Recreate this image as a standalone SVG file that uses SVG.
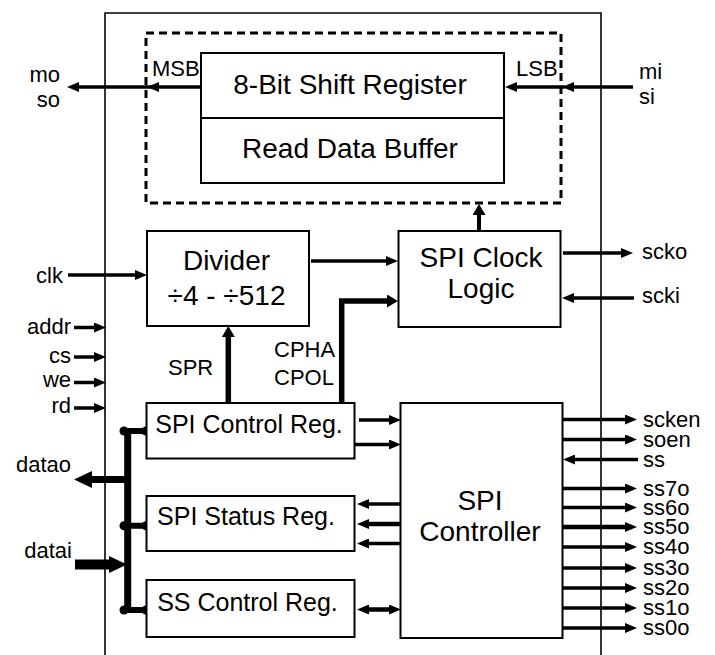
<svg xmlns="http://www.w3.org/2000/svg" width="715" height="655" viewBox="0 0 715 655">
<style>
.box{fill:#fff;stroke:#000;stroke-width:2}
.chip{fill:none;stroke:#000;stroke-width:1.6}
.dash{fill:none;stroke:#000;stroke-width:3;stroke-dasharray:8 5}
text{font-family:"Liberation Sans",Arial,sans-serif;fill:#000}
.big{font-size:28px;text-anchor:middle}
.reg{font-size:25px;text-anchor:middle}
.lbl{font-size:22px}
.end{text-anchor:end}
.w{fill:none;stroke:#000;stroke-width:3.5}
.t{stroke-width:5.5}
.a{marker-end:url(#ah)}
.m{marker-end:url(#ahM)}
.l{marker-end:url(#ahL)}
.d{marker-start:url(#ah2);marker-end:url(#ah2)}
.bus{fill:none;stroke:#000;stroke-width:7}
.stub{fill:none;stroke:#000;stroke-width:6}
</style>
<defs>
<marker id="ah" markerUnits="userSpaceOnUse" markerWidth="12" markerHeight="10" viewBox="0 0 12 10" refX="4" refY="5" orient="auto"><path d="M0,0L12,5L0,10z"/></marker>
<marker id="ah2" markerUnits="userSpaceOnUse" markerWidth="12" markerHeight="10" viewBox="0 0 12 10" refX="4" refY="5" orient="auto-start-reverse"><path d="M0,0L12,5L0,10z"/></marker>
<marker id="ahM" markerUnits="userSpaceOnUse" markerWidth="11" markerHeight="13" viewBox="0 0 11 13" refX="4" refY="6.5" orient="auto"><path d="M0,0L11,6.5L0,13z"/></marker>
<marker id="ahL" markerUnits="userSpaceOnUse" markerWidth="18" markerHeight="17" viewBox="0 0 18 17" refX="6" refY="8.5" orient="auto"><path d="M0,0L18,8.5L0,17z"/></marker>
</defs>

<g id="chip"><path class="chip" d="M105,655V13H601V655"/></g>
<g id="shift-block"><rect class="dash" x="146" y="33" width="415" height="170"/></g>

<g id="connectors">
<path class="w a" d="M201,87H155"/>
<path class="w a" d="M155,87H75"/>
<path class="w a" d="M633,87H570"/>
<path class="w a" d="M565,87H513"/>
<path class="w a" d="M68,275H139"/>
<path class="w a" d="M74,327.5H98"/>
<path class="w a" d="M74,357H98"/>
<path class="w a" d="M74,382.5H98"/>
<path class="w a" d="M74,408H98"/>
<path class="w a" d="M311,261H390"/>
<path class="w t m" d="M341.7,403V301H391"/>
<path class="w t m" d="M228.3,403V333"/>
<path class="w m" style="stroke-width:4" d="M479,231V211"/>
<path class="w a" d="M563,253H625"/>
<path class="w a" d="M634,298H570"/>
<path class="w a" d="M359,420H393"/>
<path class="w a" d="M355,444.5H393"/>
<path class="w a" d="M402,504H365"/>
<path class="w a" style="stroke-width:4.5" d="M402,524H365"/>
<path class="w a" d="M402,543.5H365"/>
<path class="w d" style="stroke-width:4.5" d="M365,609.5H393"/>
<path class="w a" d="M562,419.5H629"/>
<path class="w a" d="M562,439.5H629"/>
<path class="w a" d="M638,459.5H571"/>
<path class="w a" d="M562,488.5H629"/>
<path class="w a" d="M562,507.5H629"/>
<path class="w a" style="stroke-width:4.5" d="M562,527H629"/>
<path class="w a" d="M562,547H629"/>
<path class="w a" d="M562,568H629"/>
<path class="w a" d="M562,588H629"/>
<path class="w a" d="M562,608H629"/>
<path class="w a" d="M562,628H629"/>
<path class="bus" d="M127.7,430V613"/>
<path class="stub" d="M124,431H146M124,525.7H146M124,610H146"/>
<g fill="#000">
<circle cx="124" cy="431" r="4.5"/><circle cx="146" cy="431" r="4.5"/>
<circle cx="124" cy="525.7" r="4.5"/><circle cx="146" cy="525.7" r="4.5"/>
<circle cx="124" cy="610" r="4.5"/><circle cx="146" cy="610" r="4.5"/>
</g>
<path class="w l" style="stroke-width:7" d="M127,479.5H86"/>
<path class="w l" style="stroke-width:10" d="M75,564.5H115"/>
</g>

<g id="shift-register"><rect class="box" x="201" y="53" width="303" height="65"/><text class="big" x="350" y="94">8-Bit Shift Register</text></g>
<g id="read-data-buffer"><rect class="box" x="201" y="118" width="303" height="65"/><text class="big" x="350" y="158">Read Data Buffer</text></g>
<g id="divider"><rect class="box" x="147" y="231" width="162" height="95"/><text class="big" x="226.5" y="270">Divider</text><text class="big" x="226.5" y="305">÷4 - ÷512</text></g>
<g id="clock-logic"><rect class="box" x="398.5" y="231" width="162" height="96"/><text class="big" x="481" y="267">SPI Clock</text><text class="big" x="481" y="298">Logic</text></g>
<g id="control-reg"><rect class="box" x="146.5" y="403" width="208" height="55.5"/><text class="reg" x="249" y="433">SPI Control Reg.</text></g>
<g id="status-reg"><rect class="box" x="146.5" y="496" width="208" height="55"/><text class="reg" x="246" y="525">SPI Status Reg.</text></g>
<g id="ss-control-reg"><rect class="box" x="146.5" y="580" width="208" height="57"/><text class="reg" x="247.5" y="611">SS Control Reg.</text></g>
<g id="spi-controller"><rect class="box" x="400.5" y="403" width="162" height="235"/><text class="big" x="480" y="510">SPI</text><text class="big" x="480" y="541">Controller</text></g>

<g id="labels" class="lbl">
<text class="end" x="60" y="82">mo</text><text class="end" x="60" y="107">so</text>
<text x="152" y="76">MSB</text><text x="516" y="76">LSB</text>
<text x="639" y="79">mi</text><text x="639" y="104">si</text>
<text class="end" x="63" y="283">clk</text>
<text class="end" x="71" y="334">addr</text>
<text class="end" x="71" y="363">cs</text>
<text class="end" x="71" y="387">we</text>
<text class="end" x="71" y="413">rd</text>
<text x="168" y="375">SPR</text>
<text x="274" y="357">CPHA</text><text x="274" y="385">CPOL</text>
<text x="642" y="259">scko</text><text x="642" y="303">scki</text>
<text class="end" x="71" y="472">datao</text><text class="end" x="72" y="558">datai</text>
<text x="643" y="426.5">scken</text>
<text x="643" y="446.5">soen</text>
<text x="643" y="466.5">ss</text>
<text x="643" y="495.5">ss7o</text>
<text x="643" y="514.5">ss6o</text>
<text x="643" y="534">ss5o</text>
<text x="643" y="554">ss4o</text>
<text x="643" y="575">ss3o</text>
<text x="643" y="595">ss2o</text>
<text x="643" y="615">ss1o</text>
<text x="643" y="635">ss0o</text>
</g>
</svg>
